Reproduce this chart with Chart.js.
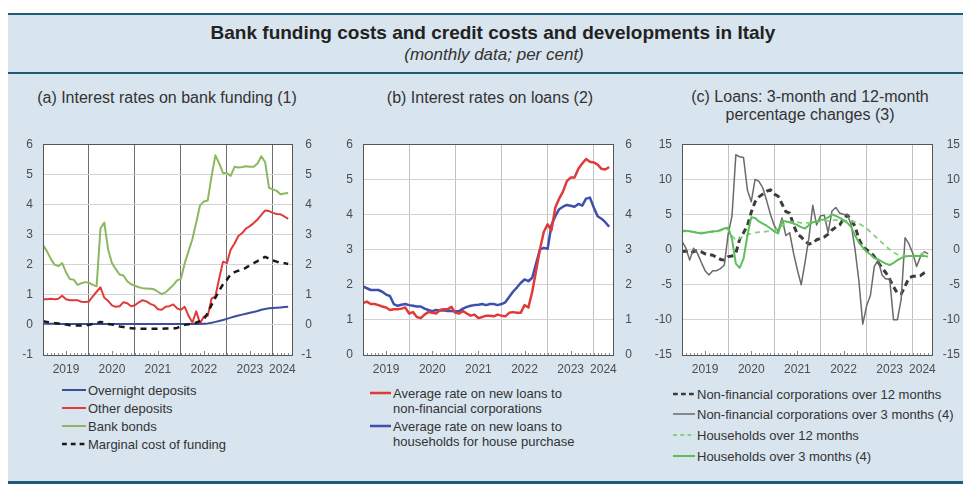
<!DOCTYPE html>
<html>
<head>
<meta charset="utf-8">
<script src="https://cdn.jsdelivr.net/npm/chart.js@4.4.1/dist/chart.umd.min.js"></script>
<style>
  html, body { margin:0; padding:0; width:963px; height:484px; overflow:hidden; background:#ffffff; font-family:"Liberation Sans", Arial, sans-serif; }
  #frame { position:absolute; left:8px; top:13px; width:955px; height:471px; background:#d8e4ee; }
  .rule { position:absolute; left:8px; width:955px; background:#1f5a78; }
  .txt { position:absolute; white-space:nowrap; color:#333; transform:translate(-50%,-50%); text-align:center; }
  canvas { position:absolute; }
  .lg { position:absolute; font-size:13px; color:#333; white-space:nowrap; line-height:15px; }
  .lg svg { position:absolute; overflow:visible; }
</style>
</head>
<body>
<div id="frame"></div>
<div class="rule" style="top:13px;height:2px"></div>
<div class="rule" style="top:72px;height:2px"></div>
<div class="rule" style="top:481px;height:3px"></div>
<div class="txt" style="left:493px;top:33px;font-size:19px;font-weight:bold;color:#222">Bank funding costs and credit costs and developments in Italy</div>
<div class="txt" style="left:494px;top:55px;font-size:17px;font-style:italic;color:#333">(monthly data; per cent)</div>
<div class="txt" style="left:167px;top:98px;font-size:16px;">(a) Interest rates on bank funding (1)</div>
<div class="txt" style="left:490px;top:98px;font-size:16px;">(b) Interest rates on loans (2)</div>
<div class="txt" style="left:810px;top:106px;font-size:16px;line-height:18px">(c) Loans: 3-month and 12-month<br>percentage changes (3)</div>
<canvas id="ca" width="309" height="253" style="left:3px;top:127px"></canvas>
<canvas id="cb" width="309" height="253" style="left:323px;top:127px"></canvas>
<canvas id="cc" width="318" height="253" style="left:642px;top:127px"></canvas>
<div id="legends"></div>
<script>
// ---- time axis: monthly observations from January 2019 (index 0) ----
const yearLabels = ['2019', '2020', '2021', '2022', '2023', '2024'];

// ---- panel (a): interest rates on bank funding ----
const overnightDeposits = [
  0.05,0.04,0.04,0.04,0.03,0.03,0.03,0.03,0.03,0.03,0.03,0.03,
  0.03,0.03,0.03,0.03,0.03,0.03,0.03,0.03,0.03,0.03,0.03,0.03,
  0.03,0.03,0.03,0.03,0.03,0.03,0.03,0.03,0.03,0.03,0.03,0.03,
  0.03,0.03,0.03,0.03,0.03,0.03,0.04,0.05,0.07,0.10,0.13,0.16,
  0.20,0.24,0.28,0.31,0.34,0.37,0.40,0.43,0.46,0.50,0.53,0.55,
  0.56,0.57,0.58,0.59,0.60];
const otherDeposits = [
  0.85,0.85,0.87,0.85,0.87,0.97,0.85,0.82,0.82,0.82,0.77,0.76,
  0.78,0.95,1.10,1.25,0.90,0.80,0.65,0.60,0.62,0.75,0.72,0.62,
  0.65,0.75,0.82,0.78,0.70,0.65,0.52,0.50,0.60,0.62,0.68,0.55,
  0.50,0.60,0.30,0.08,0.45,0.05,0.28,0.30,0.87,0.95,1.55,2.10,
  2.05,2.50,2.70,2.95,3.05,3.20,3.28,3.38,3.50,3.65,3.80,3.78,
  3.72,3.68,3.67,3.60,3.52];
const bankBonds = [
  2.65,2.45,2.20,2.00,1.95,2.05,1.75,1.52,1.50,1.33,1.38,1.42,
  1.40,1.33,1.28,3.20,3.40,2.50,2.05,1.85,1.67,1.64,1.45,1.35,
  1.30,1.25,1.22,1.21,1.20,1.18,1.10,1.02,1.08,1.20,1.32,1.48,
  1.53,2.05,2.45,2.85,3.40,3.97,4.10,4.13,4.93,5.63,5.36,5.04,
  5.04,4.95,5.25,5.23,5.24,5.27,5.25,5.25,5.36,5.60,5.40,4.55,
  4.50,4.45,4.34,4.36,4.38];
const marginalCost = [
  0.12,0.10,0.08,0.06,0.05,0.03,0.01,-0.01,-0.02,-0.02,-0.02,0.00,
  0.00,0.03,0.06,0.10,0.07,0.03,0.01,-0.02,-0.05,-0.07,-0.10,-0.11,
  -0.12,-0.13,-0.13,-0.13,-0.13,-0.13,-0.13,-0.13,-0.12,-0.12,-0.12,-0.10,
  -0.05,0.00,0.02,0.05,0.08,0.12,0.18,0.40,0.66,0.90,1.14,1.35,
  1.50,1.68,1.75,1.80,1.83,1.90,1.98,2.05,2.12,2.20,2.26,2.20,
  2.14,2.10,2.05,2.05,2.02];

// ---- panel (b): interest rates on loans ----
const loansNFC = [
  1.48,1.52,1.45,1.45,1.42,1.38,1.35,1.28,1.30,1.30,1.32,1.35,
  1.18,1.22,1.08,1.05,1.15,1.22,1.20,1.18,1.28,1.30,1.30,1.37,
  1.20,1.18,1.25,1.18,1.12,1.15,1.05,1.08,1.12,1.12,1.10,1.15,
  1.12,1.10,1.20,1.22,1.20,1.20,1.42,1.35,1.80,2.40,3.00,3.50,
  3.72,3.55,4.20,4.45,4.65,4.95,5.05,5.05,5.30,5.45,5.58,5.50,
  5.48,5.42,5.30,5.28,5.35];
const loansHouseholds = [
  1.95,1.90,1.85,1.85,1.85,1.80,1.72,1.68,1.45,1.40,1.43,1.45,
  1.42,1.40,1.38,1.38,1.32,1.28,1.25,1.28,1.27,1.27,1.25,1.25,
  1.24,1.25,1.32,1.37,1.40,1.42,1.43,1.45,1.42,1.45,1.45,1.42,
  1.45,1.50,1.65,1.80,1.92,2.05,2.15,2.10,2.20,2.60,3.00,3.05,
  3.02,3.70,3.95,4.15,4.22,4.27,4.25,4.22,4.30,4.25,4.45,4.48,
  4.20,3.95,3.88,3.78,3.65];

// ---- panel (c): loans, percentage changes ----
const nfc12m = [
  -0.3,-0.2,-0.5,-0.3,-0.1,-0.3,-0.6,-0.7,-0.8,-1.1,-1.4,-1.5,
  -1.0,-0.9,-0.5,1.5,2.4,3.4,5.3,6.8,7.5,7.9,8.3,8.5,
  7.9,7.6,6.5,5.4,5.2,3.5,2.2,1.8,1.2,0.8,0.9,1.4,
  1.6,1.8,2.2,2.8,3.2,3.5,4.4,4.9,4.2,3.3,1.5,0.4,
  0.0,-0.4,-1.0,-1.8,-2.6,-3.3,-4.2,-5.3,-6.2,-6.3,-5.2,-4.0,
  -3.8,-3.8,-3.7,-3.3,-3.0];
const nfc3m = [
  1.2,0.2,-1.5,0.2,-0.5,-1.8,-3.0,-3.6,-3.0,-3.0,-2.7,-2.2,
  2.2,4.8,13.5,13.2,13.1,8.5,6.8,10.0,9.7,8.8,7.0,5.0,
  3.4,2.6,4.5,2.0,2.4,-0.5,-2.9,-5.0,-1.8,1.7,6.3,3.5,
  4.8,4.9,2.4,5.5,6.0,5.2,5.0,5.0,3.5,0.0,-4.5,-10.6,
  -8.0,-6.5,-2.4,-1.5,-3.6,-4.2,-4.2,-10.0,-10.0,-7.0,1.7,0.8,
  -0.5,-2.4,-1.0,-0.3,-0.6];
const households12m = [
  2.6,2.6,2.6,2.5,2.4,2.4,2.4,2.5,2.5,2.6,2.7,2.8,
  2.9,2.0,1.3,1.6,1.9,2.1,2.3,2.4,2.5,2.5,2.6,2.6,
  2.7,3.0,3.4,3.8,3.9,4.0,3.9,3.8,3.8,3.8,3.9,4.0,
  4.0,4.1,4.1,4.2,4.2,4.2,4.1,4.1,4.0,3.9,3.7,3.4,
  3.0,2.5,2.0,1.5,1.0,0.5,0.0,-0.4,-0.7,-0.8,-0.9,-0.9,
  -0.9,-0.8,-0.7,-0.4,-0.6];
const households3m = [
  2.7,2.7,2.6,2.5,2.4,2.3,2.4,2.5,2.6,2.6,2.8,3.0,
  3.1,1.5,-2.0,-2.6,-1.3,2.0,4.6,4.5,4.0,3.7,3.4,3.0,
  2.6,2.3,4.1,4.0,3.9,3.7,3.5,3.2,3.0,3.5,3.9,4.0,
  4.2,4.3,4.6,5.0,4.8,4.5,4.2,3.8,3.2,2.0,1.0,0.3,
  -0.3,-0.7,-1.2,-1.4,-1.7,-2.0,-2.2,-1.9,-1.5,-1.2,-1.0,-0.9,
  -0.9,-0.9,-0.9,-0.9,-1.0];

const X_MAX = 65;
const FONT = "'Liberation Sans', Arial, sans-serif";
const TICK_COLOR = '#4d4d4d';

const toXY = arr => arr.map((v, i) => ({ x: i, y: v }));

const panelPlugin = {
  id: 'panelPlugin',
  beforeDraw(chart) {
    const { ctx, chartArea: a } = chart;
    ctx.save();
    ctx.fillStyle = '#ffffff';
    ctx.fillRect(a.left, a.top, a.width, a.height);
    ctx.restore();
  },
  afterDatasetsDraw(chart) {
    const { ctx, chartArea: a } = chart;
    const xs = chart.scales.x;
    ctx.save();
    ctx.strokeStyle = '#8a8a8a';
    ctx.lineWidth = 1;
    for (let m = 1; m < X_MAX; m++) {
      const px = Math.round(xs.getPixelForValue(m)) + 0.5;
      const len = (m % 12 === 6) ? 4 : 2;
      ctx.beginPath();
      ctx.moveTo(px, a.bottom);
      ctx.lineTo(px, a.bottom - len);
      ctx.stroke();
    }
    ctx.strokeStyle = '#555555';
    ctx.strokeRect(Math.round(a.left) + 0.5, Math.round(a.top) + 0.5, Math.round(a.width), Math.round(a.height));
    ctx.restore();
  }
};

function makePanel(id, datasets, yMin, yMax, yStep, vGridColor, rightW) {
  const tickFont = { family: FONT, size: 12 };
  return new Chart(document.getElementById(id), {
    type: 'line',
    data: { datasets },
    options: {
      responsive: false,
      animation: false,
      devicePixelRatio: 1,
      layout: { padding: { top: 10, left: 0, right: 0, bottom: 0 } },
      elements: { point: { radius: 0 }, line: { tension: 0, borderCapStyle: 'butt', borderJoinStyle: 'round' } },
      plugins: { legend: { display: false }, tooltip: { enabled: false } },
      scales: {
        x: {
          type: 'linear', min: 0, max: X_MAX,
          afterBuildTicks: s => {
            const t = [];
            yearLabels.forEach((lab, k) => {
              t.push({ value: k * 12 });
              t.push({ value: Math.min(k * 12 + 6, (k * 12 + X_MAX) / 2) });
            });
            s.ticks = t;
          },
          afterFit: s => { s.height = 25; },
          ticks: {
            autoSkip: false, maxRotation: 0, minRotation: 0, padding: 7,
            font: tickFont, color: TICK_COLOR,
            callback: v => (v % 12 === 0) ? '' : yearLabels[Math.floor(v / 12)]
          },
          grid: {
            drawTicks: false, lineWidth: 1,
            color: c => (c.tick && c.tick.value % 12 === 0 && c.tick.value > 0) ? vGridColor : 'rgba(0,0,0,0)'
          },
          border: { display: false }
        },
        y: {
          position: 'left', min: yMin, max: yMax,
          afterFit: s => { s.width = 40; },
          ticks: { stepSize: yStep, padding: 10, font: tickFont, color: TICK_COLOR },
          grid: { drawTicks: false, color: '#d3d3d3', lineWidth: 1 },
          border: { display: false }
        },
        y2: {
          position: 'right', min: yMin, max: yMax,
          afterFit: s => { s.width = rightW; },
          ticks: { stepSize: yStep, padding: 0, crossAlign: 'far', font: tickFont, color: TICK_COLOR },
          grid: { display: false, drawTicks: false },
          border: { display: false }
        }
      }
    },
    plugins: [panelPlugin]
  });
}

const seriesA = [
  { label: 'Overnight deposits', data: overnightDeposits, color: '#3a4f9c', width: 2, dash: [] },
  { label: 'Other deposits', data: otherDeposits, color: '#e03b3b', width: 2, dash: [] },
  { label: 'Bank bonds', data: bankBonds, color: '#8cb860', width: 2, dash: [] },
  { label: 'Marginal cost of funding', data: marginalCost, color: '#1a1a1a', width: 2.5, dash: [6, 5] }
];
const seriesB = [
  { label: 'Average rate on new loans to\nnon-financial corporations', data: loansNFC, color: '#e03b3b', width: 2.5, dash: [] },
  { label: 'Average rate on new loans to\nhouseholds for house purchase', data: loansHouseholds, color: '#3f4fae', width: 2.5, dash: [] }
];
const seriesC = [
  { label: 'Non-financial corporations over 12 months', data: nfc12m, color: '#3c3c3c', width: 3, dash: [6, 4] },
  { label: 'Non-financial corporations over 3 months (4)', data: nfc3m, color: '#6a6a6a', width: 1.5, dash: [] },
  { label: 'Households over 12 months', data: households12m, color: '#86d07a', width: 1.8, dash: [5, 4] },
  { label: 'Households over 3 months (4)', data: households3m, color: '#5cbf58', width: 2, dash: [] }
];

const toDatasets = list => list.map(s => ({
  label: s.label, data: toXY(s.data), borderColor: s.color, borderWidth: s.width,
  borderDash: s.dash, fill: false, yAxisID: 'y'
}));

makePanel('ca', toDatasets(seriesA).reverse(), -1, 6, 1, '#6e6e6e', 20);
makePanel('cb', toDatasets(seriesB), 0, 6, 1, '#c2c2c2', 19);
makePanel('cc', toDatasets(seriesC.slice().reverse()), -15, 15, 5, '#c2c2c2', 28);

function legend(list, sampleX, sampleW, textX, ys) {
  const root = document.getElementById('legends');
  list.forEach((s, i) => {
    const lines = s.label.split('\n');
    const div = document.createElement('div');
    div.className = 'lg';
    div.style.left = textX + 'px';
    div.style.top = (ys[i] - 7.5) + 'px';
    lines.forEach((ln, j) => {
      if (j) div.appendChild(document.createElement('br'));
      div.appendChild(document.createTextNode(ln));
    });
    root.appendChild(div);
    const svgNS = 'http://www.w3.org/2000/svg';
    const svg = document.createElementNS(svgNS, 'svg');
    svg.setAttribute('width', sampleW);
    svg.setAttribute('height', 6);
    svg.style.position = 'absolute';
    svg.style.left = sampleX + 'px';
    svg.style.top = (ys[i] - 3) + 'px';
    const ln = document.createElementNS(svgNS, 'line');
    ln.setAttribute('x1', 0); ln.setAttribute('x2', sampleW);
    ln.setAttribute('y1', 3); ln.setAttribute('y2', 3);
    ln.setAttribute('stroke', s.color);
    ln.setAttribute('stroke-width', Math.min(s.width, 2.5));
    if (s.dash.length) ln.setAttribute('stroke-dasharray', s.dash.map(d => d * 0.8).join(' '));
    svg.appendChild(ln);
    root.appendChild(svg);
  });
}
legend(seriesA, 62, 24, 88, [390, 408, 426, 444]);
legend(seriesB, 370, 21, 393, [393, 426]);
legend(seriesC, 673, 22, 697, [394, 414, 435, 456]);
</script>
</body>
</html>
